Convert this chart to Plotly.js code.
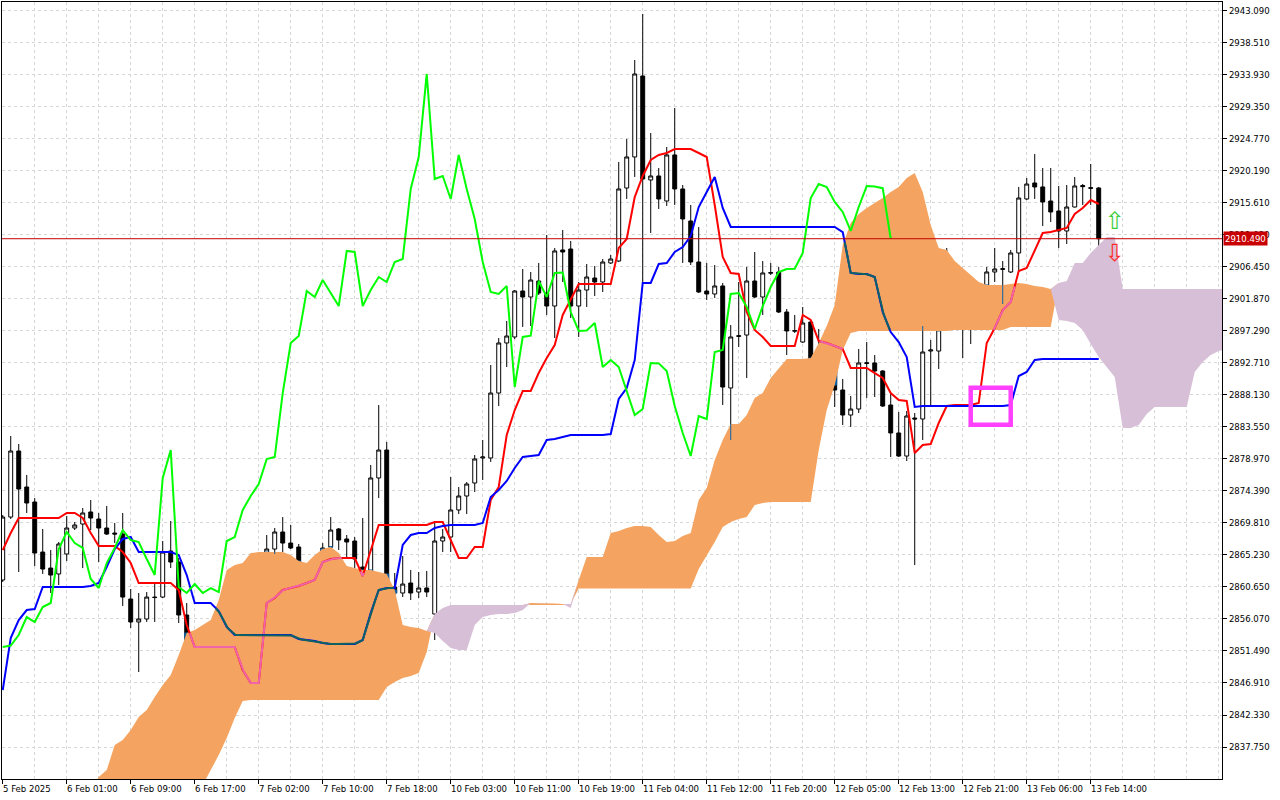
<!DOCTYPE html>
<html><head><meta charset="utf-8">
<script src="https://cdn.plot.ly/plotly-3.0.1.min.js"></script>
<style>html,body{margin:0;padding:0;background:#fff}#chart{width:1280px;height:800px}</style>
</head><body><div id="chart"></div>
<script>
// ---- time axis labels (H1 bars, label every 8 bars) ----
const timeLabels = ["5 Feb 2025","6 Feb 01:00","6 Feb 09:00","6 Feb 17:00","7 Feb 02:00","7 Feb 10:00","7 Feb 18:00","10 Feb 03:00","10 Feb 11:00","10 Feb 19:00","11 Feb 04:00","11 Feb 12:00","11 Feb 20:00","12 Feb 05:00","12 Feb 13:00","12 Feb 21:00","13 Feb 06:00","13 Feb 14:00"];
const labelBars = [0,8,16,24,32,40,48,56,64,72,80,88,96,104,112,120,128,136];
const priceTicks = [2837.75,2842.33,2846.91,2851.49,2856.07,2860.65,2865.23,2869.81,2874.39,2878.97,2883.55,2888.13,2892.71,2897.29,2901.87,2906.45,2911.03,2915.61,2920.19,2924.77,2929.35,2933.93,2938.51,2943.09];

// ---- OHLC ----
const open = [
2861.65,2870.66,2880.11,2874.96,2872.81,2865.65,2863.36,2862.51,2865.37,2869.09,
2869.66,2871.38,2870.38,2869.09,2868.37,2868.23,2858.93,2855.64,2856.07,2859.21,
2859.21,2865.80,2864.22,2856.64,2841.90,2850.48,2848.62,2852.38,2852.34,2853.78,
2856.49,2851.77,2857.78,2858.36,2866.08,2868.52,2866.94,2866.37,2861.93,2860.50,
2864.08,2866.37,2868.95,2867.52,2867.23,2863.51,2862.36,2876.25,2880.25,2860.65,
2859.79,2861.22,2859.93,2860.50,2856.78,2867.23,2867.80,2871.67,2873.67,2875.53,
2879.11,2879.11,2888.41,2895.57,2896.43,2903.01,2902.15,2904.44,2902.72,2900.86,
2908.88,2909.02,2900.86,2903.15,2904.87,2904.30,2907.02,2907.30,2917.75,2922.19,
2933.78,2918.90,2919.47,2915.89,2922.48,2917.61,2913.03,2907.16,2903.01,2902.58,
2903.73,2889.13,2896.50,2896.71,2904.44,2902.15,2905.55,2905.73,2900.00,2897.25,
2895.71,2898.57,2892.13,2893.13,2892.28,2888.84,2885.26,2886.12,2892.75,2892.71,
2891.56,2886.69,2882.69,2879.39,2884.83,2884.69,2894.42,2894.42,2902.29,2902.72,
2900.86,2897.57,2900.72,2903.58,2905.73,2906.10,2905.73,2908.45,2916.18,2918.47,
2917.90,2915.89,2914.46,2911.60,2915.03,2918.10,2917.80,2917.75];
const high = [
2870.95,2882.26,2881.11,2876.68,2873.38,2868.95,2865.94,2867.09,2870.81,2869.95,
2871.95,2873.10,2871.24,2872.24,2869.81,2871.24,2860.36,2859.79,2859.93,2861.36,
2867.23,2870.09,2864.80,2858.36,2853.20,2850.77,2852.63,2853.49,2854.49,2857.21,
2856.92,2858.64,2860.07,2868.09,2869.09,2870.66,2869.52,2866.80,2862.36,2864.80,
2866.94,2870.66,2869.09,2868.09,2867.80,2870.52,2878.11,2886.69,2881.40,2862.65,
2865.08,2863.08,2862.79,2862.94,2870.09,2868.95,2876.39,2874.96,2875.67,2879.54,
2881.68,2892.42,2896.28,2898.72,2903.15,2906.16,2905.73,2907.02,2911.03,2909.16,
2911.74,2910.17,2904.30,2906.87,2906.59,2907.59,2908.16,2921.47,2924.77,2936.07,
2942.66,2925.62,2920.61,2923.62,2929.20,2918.18,2915.32,2912.17,2907.02,2906.73,
2904.16,2898.14,2904.30,2906.45,2908.59,2907.30,2907.02,2906.45,2900.43,2899.58,
2900.72,2898.72,2897.57,2897.71,2893.13,2890.42,2887.98,2894.71,2895.71,2893.85,
2891.70,2888.41,2885.69,2885.84,2885.55,2898.00,2896.00,2904.44,2909.16,2903.73,
2901.72,2901.44,2904.16,2906.45,2909.16,2907.30,2908.88,2917.90,2919.18,2922.62,
2920.61,2920.61,2918.04,2918.18,2919.33,2918.32,2921.19,2917.90];
const low = [
2861.36,2870.38,2862.79,2871.24,2863.65,2862.51,2859.79,2860.93,2864.37,2868.80,
2863.36,2868.80,2864.22,2868.09,2866.94,2857.93,2854.78,2848.48,2855.64,2855.64,
2859.07,2863.36,2855.49,2841.04,2834.02,2848.48,2847.91,2849.77,2849.91,2853.49,
2854.49,2851.63,2857.64,2858.21,2865.37,2865.65,2866.08,2861.65,2858.78,2859.79,
2863.79,2866.23,2865.94,2864.94,2863.36,2853.06,2862.22,2873.38,2860.50,2853.06,
2859.21,2858.78,2859.07,2859.21,2853.06,2865.65,2865.65,2871.09,2871.09,2874.24,
2875.96,2878.54,2886.55,2892.13,2896.14,2897.86,2898.00,2902.44,2899.58,2896.28,
2904.30,2899.15,2896.43,2900.72,2902.29,2902.87,2906.87,2907.16,2916.18,2919.33,
2904.16,2911.31,2914.75,2915.18,2915.32,2907.02,2906.73,2902.72,2901.72,2902.01,
2886.69,2881.68,2895.00,2890.56,2902.01,2899.58,2905.30,2899.86,2893.85,2897.00,
2895.57,2889.27,2883.40,2891.56,2886.41,2883.83,2883.55,2885.55,2887.70,2887.84,
2886.41,2879.25,2879.25,2878.68,2863.79,2881.68,2886.55,2891.85,2901.72,2900.15,
2893.42,2895.42,2900.00,2903.44,2904.30,2901.15,2905.59,2905.73,2916.03,2916.18,
2912.31,2912.89,2909.16,2909.74,2914.96,2915.32,2915.32,2908.16];
const close = [
2870.66,2880.11,2874.67,2872.67,2865.51,2863.22,2862.36,2866.80,2869.09,2869.52,
2871.24,2870.52,2869.09,2868.23,2868.23,2859.21,2855.64,2856.07,2859.21,2859.14,
2865.65,2864.22,2856.64,2841.90,2850.48,2848.62,2852.06,2852.27,2853.78,2856.35,
2855.64,2857.78,2858.36,2866.08,2868.52,2866.94,2866.23,2861.79,2860.50,2864.08,
2866.23,2868.80,2867.37,2867.09,2864.65,2862.36,2876.25,2880.25,2860.65,2859.79,
2861.07,2859.79,2860.50,2859.93,2867.23,2867.80,2871.67,2873.67,2875.39,2878.97,
2879.25,2888.41,2895.57,2896.57,2903.01,2902.15,2904.58,2902.72,2900.86,2908.74,
2908.59,2900.86,2903.15,2905.01,2904.30,2907.16,2907.59,2917.61,2922.19,2934.07,
2919.04,2919.47,2916.18,2922.48,2917.61,2913.32,2907.16,2902.87,2902.58,2903.73,
2889.27,2896.43,2896.61,2904.44,2902.15,2905.59,2905.65,2900.00,2897.29,2897.35,
2898.43,2892.13,2893.13,2892.13,2888.84,2885.26,2886.12,2892.71,2892.65,2891.56,
2886.55,2882.69,2879.39,2885.12,2884.69,2894.28,2894.57,2902.58,2902.72,2900.72,
2897.57,2900.86,2903.58,2905.73,2906.16,2906.20,2908.45,2916.32,2918.32,2917.90,
2915.75,2914.32,2911.60,2915.03,2918.04,2917.95,2917.72,2910.49];

// ---- Ichimoku lines ----
const tenkan = [
2865.94,2868.37,2870.52,2870.52,2870.52,2870.52,2870.52,2870.52,2871.24,2871.24,
2870.52,2868.37,2866.51,2866.51,2866.51,2865.65,2864.08,2861.22,2861.22,2861.22,
2861.22,2861.22,2860.22,2855.21,2852.06,2852.06,2852.06,2852.06,2852.06,2852.06,
2848.77,2846.91,2846.91,2858.36,2859.07,2860.22,2860.50,2860.79,2861.22,2861.65,
2864.22,2864.65,2864.80,2864.80,2864.80,2862.22,2865.94,2869.52,2869.52,2869.52,
2869.52,2869.52,2869.52,2869.52,2869.95,2869.95,2867.37,2864.80,2864.80,2866.37,
2866.37,2873.10,2874.96,2882.40,2885.98,2888.70,2888.70,2891.27,2893.42,2895.28,
2899.58,2901.72,2904.01,2904.01,2904.01,2904.01,2904.01,2909.16,2910.45,2916.46,
2919.47,2921.76,2922.48,2922.76,2923.33,2923.33,2923.33,2922.76,2922.19,2915.32,
2907.88,2905.59,2905.44,2900.00,2897.43,2896.43,2895.14,2895.14,2895.14,2895.14,
2899.58,2898.86,2895.85,2895.57,2895.14,2894.71,2891.99,2891.99,2891.99,2891.27,
2890.56,2888.41,2887.41,2887.27,2879.82,2880.97,2881.11,2884.12,2886.55,2886.69,
2886.69,2886.69,2886.98,2895.57,2897.71,2900.29,2901.44,2905.87,2906.30,2908.74,
2911.31,2911.45,2911.74,2912.03,2914.03,2914.89,2916.03,2915.46];
const kijun = [
2845.90,2853.35,2855.92,2857.35,2857.49,2860.65,2860.65,2860.65,2860.65,2860.65,
2860.65,2860.79,2861.22,2863.51,2866.08,2867.52,2867.80,2865.65,2865.65,2865.65,
2865.65,2865.65,2865.23,2862.36,2858.36,2858.36,2858.36,2857.21,2854.92,2853.78,
2853.78,2853.78,2853.78,2853.78,2853.78,2853.78,2853.78,2853.20,2853.06,2852.92,
2852.63,2852.49,2852.49,2852.49,2852.49,2853.06,2856.92,2860.22,2860.50,2860.50,
2866.66,2868.09,2868.37,2868.37,2869.09,2869.38,2869.52,2869.52,2869.52,2869.52,
2869.81,2873.53,2874.53,2875.82,2877.68,2879.25,2879.39,2879.54,2881.68,2881.83,
2882.11,2882.40,2882.40,2882.40,2882.40,2882.40,2882.54,2887.55,2889.13,2893.13,
2904.16,2904.16,2906.87,2907.02,2908.59,2909.31,2910.88,2915.03,2917.18,2919.33,
2914.89,2912.17,2912.17,2912.17,2912.17,2912.17,2912.17,2912.17,2912.17,2912.17,
2912.17,2912.17,2912.17,2912.17,2912.17,2911.45,2905.59,2905.44,2905.44,2905.01,
2900.00,2897.14,2895.71,2893.56,2886.41,2886.55,2886.55,2886.55,2886.55,2886.55,
2886.55,2886.55,2886.55,2886.55,2886.55,2886.55,2886.69,2890.84,2891.42,2893.13,
2893.28,2893.28,2893.28,2893.28,2893.28,2893.28,2893.28,2893.28];
const chikouShift = 26;

// ---- Kumo (senkou spans), first value belongs to bar cloudStart ----
const cloudStart = 11;
const spanA = [
2831.59,2833.45,2834.45,2838.03,2838.75,2840.18,2842.04,2843.04,2844.90,
2846.62,2848.05,2850.91,2854.06,2854.49,2855.21,2855.92,2858.78,2863.08,2863.79,
2864.08,2865.51,2865.65,2865.65,2865.65,2865.65,2865.23,2864.37,2864.08,2865.23,
2866.08,2866.37,2865.51,2863.65,2863.36,2863.08,2863.08,2862.79,2862.51,2860.22,
2855.21,2854.92,2854.78,2854.35,2854.06,2852.92,2851.91,2851.63,2851.63,2855.21,
2856.35,2856.64,2856.78,2856.78,2856.92,2857.35,2858.36,2858.36,2858.36,2858.29,
2858.21,2857.64,2861.65,2864.94,2864.94,2864.94,2868.37,2868.66,2869.09,2869.38,
2869.38,2869.23,2868.09,2867.09,2867.23,2867.94,2868.37,2873.10,2874.81,2878.82,
2881.68,2883.97,2883.97,2885.26,2887.70,2888.41,2890.56,2891.99,2893.28,2893.28,
2893.28,2893.42,2895.57,2898.00,2901.01,2909.59,2912.74,2914.03,2914.89,2915.61,
2916.32,2917.18,2917.90,2919.18,2919.90,2917.18,2912.46,2909.16,2908.88,2907.30,
2906.30,2905.30,2904.30,2903.87,2903.87,2903.87,2904.01,2904.16,2904.01,2903.73,
2903.58,2903.30,2898.86,2898.72,2898.43,2897.43,2895.42,2893.56,2892.13,2890.70,
2883.40,2883.40,2883.83,2885.41,2886.41,2886.41,2886.41,2886.41,2886.41,2891.42,
2892.85,2893.85,2894.42,2894.71];
const spanB = [
2830.00,2830.00,2830.00,2830.00,2830.00,2830.00,2830.00,2830.00,2830.00,
2830.00,2830.00,2830.00,2830.00,2830.00,2832.31,2834.45,2836.60,2839.03,2841.90,
2844.33,2844.47,2844.47,2844.47,2844.47,2844.47,2844.47,2844.47,2844.47,2844.47,
2844.47,2844.47,2844.47,2844.47,2844.47,2844.47,2844.47,2844.47,2846.33,2847.05,
2847.62,2847.91,2848.34,2851.34,2856.78,2857.64,2858.07,2858.07,2858.07,2858.07,
2858.07,2858.07,2858.07,2858.07,2858.07,2858.07,2858.07,2858.07,2858.07,2858.07,
2858.07,2858.21,2860.45,2860.45,2860.45,2860.45,2860.45,2860.45,2860.45,2860.45,
2860.45,2860.45,2860.45,2860.45,2860.45,2860.45,2860.45,2863.22,2865.08,2867.09,
2869.23,2869.95,2870.38,2870.66,2872.38,2872.67,2872.81,2872.81,2872.81,2872.81,
2872.81,2872.81,2880.25,2885.98,2889.56,2894.57,2897.00,2897.29,2897.29,2897.29,
2897.29,2897.29,2897.29,2897.29,2897.29,2897.29,2897.29,2897.29,2897.29,2897.43,
2897.43,2897.43,2897.43,2897.43,2897.43,2897.43,2897.86,2897.86,2897.86,2897.86,
2897.86,2897.86,2904.16,2904.44,2907.02,2907.02,2908.45,2909.59,2910.74,2910.74,
2903.30,2903.30,2903.30,2903.30,2903.30,2903.30,2903.30,2903.30,2903.30,2903.30,
2903.30,2903.30,2903.30,2903.30];

// ---- markers ----
const lastPrice = 2910.49;
const signalBox = {x0: 121, x1: 126, y0: 2883.88, y1: 2889.16};
const arrowUp = {x: 139, y: 2912.75};
const arrowDown = {x: 139, y: 2908.15};

// ---- colours ----
const C = {
  bull:'#ffffff', bear:'#000000', edge:'#000000',
  tenkan:'#ff0000', kijun:'#0000ff', chikou:'#00ff00',
  tenkanIn:'#f064aa', kijunIn:'#0e6262', candleIn:'#0f60a2',
  kumoUp:'#f4a460', kumoDn:'#d8bfd8', grid:'#d6d6d6', box:'#ff40ff', last:'#c00000'
};
const FONT = 'DejaVu Sans Condensed, Liberation Sans, Arial, sans-serif';

const bars = open.map((_, i) => i);
const cloudX = spanA.map((_, i) => cloudStart + i);
const cloudMax = spanA.map((a, i) => Math.max(a, spanB[i]));

function cloudAt(x) {
  const c = x - cloudStart;
  if (c < 0 || c > spanA.length - 1) return null;
  const i0 = Math.floor(c), i1 = Math.min(i0 + 1, spanA.length - 1), t = c - i0;
  return {a: spanA[i0] + (spanA[i1] - spanA[i0]) * t, b: spanB[i0] + (spanB[i1] - spanB[i0]) * t};
}
function insideOverlay(vals) {
  const xs = [], ys = [], steps = 8;
  for (let i = 0; i < vals.length; i++) {
    const n = (i === vals.length - 1) ? 1 : steps;
    for (let s = 0; s < n; s++) {
      const t = s / steps, x = i + t;
      const v = (i === vals.length - 1) ? vals[i] : vals[i] + (vals[i + 1] - vals[i]) * t;
      const c = cloudAt(x);
      const inside = c && c.a > c.b && v >= c.b && v <= c.a;
      xs.push(x); ys.push(inside ? v : null);
    }
  }
  return {xs, ys};
}

// candles inside the bullish kumo get the blended colour
const inC = {x: [], o: [], h: [], l: [], c: []};
const wickX = [], wickY = [];
bars.forEach(i => {
  const cl = cloudAt(i);
  if (!cl || cl.a <= cl.b) return;
  const top = cl.a, bot = cl.b;
  const bHi = Math.max(open[i], close[i]), bLo = Math.min(open[i], close[i]);
  const clamp = v => Math.min(top, Math.max(bot, v));
  if (bHi >= bot && bLo <= top) {
    inC.x.push(i); inC.o.push(clamp(open[i])); inC.c.push(clamp(close[i]));
    inC.h.push(Math.min(high[i], top)); inC.l.push(Math.max(low[i], bot));
  } else if (high[i] >= bot && low[i] <= top) {
    wickX.push(i, i, null); wickY.push(Math.max(low[i], bot), Math.min(high[i], top), null);
  }
});

const chikouX = [], chikouY = [];
for (let i = 0; i + chikouShift < close.length; i++) { chikouX.push(i); chikouY.push(close[i + chikouShift]); }

const tIn = insideOverlay(tenkan);
const kIn = insideOverlay(kijun);

const noHover = {hoverinfo: 'skip', showlegend: false};
const traces = [
  Object.assign({x: cloudX, y: spanB, mode: 'lines', line: {width: 0, color: C.kumoUp}}, noHover),
  Object.assign({x: cloudX, y: cloudMax, mode: 'lines', line: {width: 0, color: C.kumoUp}, fill: 'tonexty', fillcolor: C.kumoUp}, noHover),
  Object.assign({x: cloudX, y: spanA, mode: 'lines', line: {width: 0, color: C.kumoDn}}, noHover),
  Object.assign({x: cloudX, y: cloudMax, mode: 'lines', line: {width: 0, color: C.kumoDn}, fill: 'tonexty', fillcolor: C.kumoDn}, noHover),
  Object.assign({type: 'candlestick', x: bars, open: open, high: high, low: low, close: close,
    increasing: {line: {color: C.edge, width: 1}, fillcolor: C.bull},
    decreasing: {line: {color: C.edge, width: 1}, fillcolor: C.bear}, whiskerwidth: 0}, noHover),
  Object.assign({type: 'candlestick', x: inC.x, open: inC.o, high: inC.h, low: inC.l, close: inC.c,
    increasing: {line: {color: C.candleIn, width: 1}, fillcolor: C.bull},
    decreasing: {line: {color: C.candleIn, width: 1}, fillcolor: C.candleIn}, whiskerwidth: 0}, noHover),
  Object.assign({x: wickX, y: wickY, mode: 'lines', line: {width: 1, color: C.candleIn}}, noHover),
  Object.assign({x: bars, y: tenkan, mode: 'lines', line: {width: 2, color: C.tenkan}}, noHover),
  Object.assign({x: tIn.xs, y: tIn.ys, mode: 'lines', line: {width: 2, color: C.tenkanIn}, connectgaps: false}, noHover),
  Object.assign({x: bars, y: kijun, mode: 'lines', line: {width: 2, color: C.kijun}}, noHover),
  Object.assign({x: kIn.xs, y: kIn.ys, mode: 'lines', line: {width: 2, color: C.kijunIn}, connectgaps: false}, noHover),
  Object.assign({x: chikouX, y: chikouY, mode: 'lines', line: {width: 2, color: C.chikou}}, noHover),
  Object.assign({x: [arrowUp.x], y: [arrowUp.y], mode: 'text', text: ['\u21E7'],
    textfont: {family: 'DejaVu Sans', size: 24, color: '#3ccc3c'}, textposition: 'middle center'}, noHover),
  Object.assign({x: [arrowDown.x], y: [arrowDown.y], mode: 'text', text: ['\u21E9'],
    textfont: {family: 'DejaVu Sans', size: 24, color: '#ff2a2a'}, textposition: 'middle center'}, noHover)
];

const annotations = timeLabels.map((t, k) => ({
  xref: 'x', x: labelBars[k], yref: 'paper', y: 0, xanchor: 'left', yanchor: 'top',
  xshift: -2, yshift: -2, text: t, showarrow: false, font: {family: FONT, size: 9.5, color: '#000'}
}));
annotations.push({
  xref: 'paper', x: 1, yref: 'y', y: lastPrice, xanchor: 'left', yanchor: 'middle', xshift: 1,
  text: lastPrice.toFixed(3), showarrow: false, bgcolor: '#c80000', borderpad: 1,
  font: {family: FONT, size: 9.5, color: '#fff'}
});

const layout = {
  width: 1280, height: 800, margin: {l: 2, r: 58, t: 2, b: 21},
  paper_bgcolor: '#fff', plot_bgcolor: '#fff', showlegend: false, dragmode: false,
  xaxis: {
    range: [-0.09, 152.41], showline: true, mirror: true, linecolor: '#000', linewidth: 1,
    tickmode: 'array', tickvals: labelBars, ticks: 'outside', ticklen: 4, tickcolor: '#000',
    showticklabels: false, showgrid: true, gridcolor: C.grid, griddash: '3px,3px', gridwidth: 1,
    minor: {tickmode: 'linear', tick0: 0, dtick: 4, showgrid: true, gridcolor: C.grid, griddash: '3px,3px', ticks: ''},
    zeroline: false, rangeslider: {visible: false}, fixedrange: true
  },
  yaxis: {
    side: 'right', range: [2833.17, 2944.37], tickmode: 'array', tickvals: priceTicks,
    ticktext: priceTicks.map(v => v.toFixed(3)), ticks: 'outside', ticklen: 4, tickcolor: '#000',
    showline: true, mirror: true, linecolor: '#000', linewidth: 1,
    showgrid: true, gridcolor: C.grid, griddash: '3px,3px', zeroline: false, fixedrange: true,
    tickfont: {family: FONT, size: 9.5, color: '#000'}
  },
  shapes: [
    {type: 'line', xref: 'paper', x0: 0, x1: 1, yref: 'y', y0: lastPrice, y1: lastPrice, line: {color: C.last, width: 1}},
    {type: 'rect', xref: 'x', yref: 'y', x0: signalBox.x0, x1: signalBox.x1, y0: signalBox.y0, y1: signalBox.y1,
     line: {color: C.box, width: 4.5}, fillcolor: 'rgba(0,0,0,0)'}
  ],
  annotations: annotations
};

Plotly.newPlot('chart', traces, layout, {displayModeBar: false, staticPlot: true});
</script>
</body></html>
